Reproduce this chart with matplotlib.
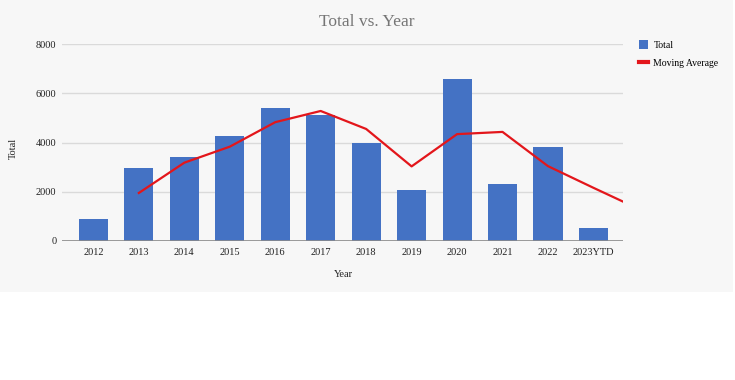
import numpy as np
import matplotlib
matplotlib.use("Agg")
import matplotlib.pyplot as plt
from matplotlib.patches import Rectangle
from matplotlib.lines import Line2D

years = ["2012", "2013", "2014", "2015", "2016", "2017", "2018", "2019",
         "2020", "2021", "2022", "2023YTD"]
totals = [900, 2980, 3400, 4270, 5390, 5120, 3970, 2070, 6570, 2300, 3810, 515]
# moving average starts at 2013; last value is where the line meets the right edge
ma_values = [1950, 3180, 3830, 4825, 5280, 4550, 3030, 4340, 4430, 3040, 2160]
ma_edge_value = 1600

plt.rcParams["font.family"] = ["Liberation Serif", "DejaVu Serif"]

BLUE = "#4472c4"
RED = "#e3161b"

fig = plt.figure(figsize=(7.35, 3.8), dpi=100)
fig.patch.set_facecolor("white")
# gray card behind the chart
fig.patches.append(Rectangle((0, 1 - 292 / 380), 733 / 735, 292 / 380,
                             transform=fig.transFigure, facecolor="#f7f7f7",
                             edgecolor="none", zorder=-5))

ax = fig.add_axes([62 / 735, 1 - 241 / 380, 561 / 735, 197 / 380])
ax.set_facecolor("none")
ax.set_zorder(2)

x = np.arange(len(years))
xmin, xmax = -0.69, 11.65
ax.bar(x, totals, width=0.64, color=BLUE, zorder=2)

ma_x = np.append(x[1:], xmax)
ma_y = ma_values + [ma_edge_value]
ax.plot(ma_x, ma_y, color=RED, lw=1.6, zorder=3, solid_joinstyle="round")

ax.set_xlim(xmin, xmax)
ax.set_ylim(0, 8000)
ax.set_yticks([0, 2000, 4000, 6000, 8000])
ax.set_xticks(x)
ax.set_xticklabels(years)
ax.grid(axis="y", color="#dadada", lw=1, zorder=0)
ax.axhline(0, color="#8a8a8a", lw=1.2, zorder=4)
for s in ax.spines.values():
    s.set_visible(False)
ax.tick_params(length=0, labelsize=7.5, colors="#222222")
ax.tick_params(axis="y", pad=4)
ax.tick_params(axis="x", pad=5)

ax.set_ylabel("Total", fontsize=7.5, color="#222222")
ax.yaxis.set_label_coords((18 - 62) / 561, (241 - 148) / 197)
ax.set_xlabel("Year", fontsize=7.5, color="#222222")
ax.xaxis.set_label_coords((343 - 62) / 561, -(270 - 241) / 197)

fig.text(367 / 735, 1 - 22 / 380, "Total vs. Year", ha="center", va="center",
         fontsize=12.5, color="#757575")

handles = [Rectangle((0, 0), 1, 1, facecolor=BLUE, edgecolor="none"),
           Line2D([0], [0], color=RED, lw=3)]
leg = fig.legend(handles, ["Total", "Moving Average"], loc="upper left",
                 bbox_to_anchor=(630 / 735, 1 - 31 / 380), frameon=False,
                 fontsize=7, handlelength=0.9, handleheight=1.1,
                 handletextpad=0.6, labelspacing=0.9)

fig.savefig("out.png", dpi=100)
